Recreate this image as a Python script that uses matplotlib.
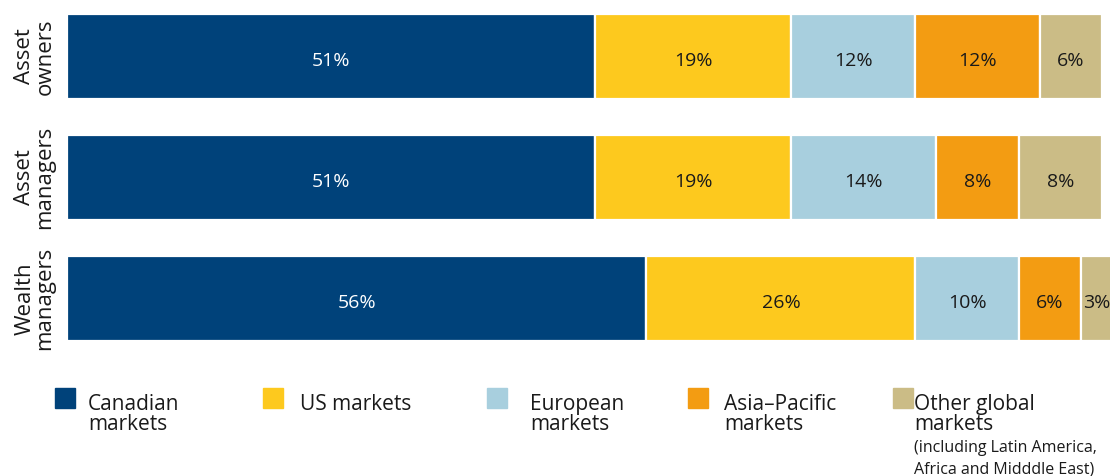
import matplotlib.pyplot as plt
import matplotlib.patches as mpatches

plt.rcParams['font.family'] = ['Open Sans', 'DejaVu Sans']

groups = ['Asset\nowners', 'Asset\nmanagers', 'Wealth\nmanagers']
markets = ['Canadian\nmarkets', 'US markets', 'European\nmarkets',
           'Asia–Pacific\nmarkets', 'Other global\nmarkets']
canadian = [51, 51, 56]
us = [19, 19, 26]
european = [12, 14, 10]
asia_pacific = [12, 8, 6]
other_global = [6, 8, 3]
other_note = '(including Latin America,\nAfrica and Midddle East)'

series = [canadian, us, european, asia_pacific, other_global]
colors = ['#00427A', '#FDC91E', '#A8CFDE', '#F39C12', '#CBBC86']
text_colors = ['white', '#1a1a1a', '#1a1a1a', '#1a1a1a', '#1a1a1a']

fig = plt.figure(figsize=(11.10, 4.76), dpi=100)
ax = fig.add_axes([67 / 1110, 135 / 476, 1045 / 1110, 327 / 476])

rows = range(len(groups))
left = [0] * len(groups)
for vals, col, tcol in zip(series, colors, text_colors):
    ax.barh(rows, vals, left=left, height=0.70, color=col,
            edgecolor='white', linewidth=1.6)
    for r, v, l in zip(rows, vals, left):
        ax.text(l + v / 2, r + 0.035, f'{v}%', ha='center', va='center',
                fontsize=14, color=tcol)
    left = [l + v for l, v in zip(left, vals)]

ax.set_xlim(0, 101)
ax.set_ylim(2.35, -0.35)
ax.axis('off')

# row labels, rotated
for r, g in zip(rows, groups):
    ax.text(-3.1, r, g, rotation=90, ha='center', va='center',
            fontsize=16, color='#1a1a1a', linespacing=0.95)

# legend along the bottom
box_x = [55, 263, 487, 688, 893]
text_x = [88, 300, 530, 724, 914]
for bx, tx, lab, col in zip(box_x, text_x, markets, colors):
    fig.patches.append(mpatches.Rectangle(
        (bx / 1110, 1 - 408 / 476), 20 / 1110, 20 / 476,
        transform=fig.transFigure, color=col, figure=fig))
    fig.text(tx / 1110, 1 - 394 / 476, lab, ha='left', va='top',
             fontsize=15, color='#1a1a1a', linespacing=0.95)
fig.text(text_x[-1] / 1110, 1 - 440 / 476, other_note, ha='left', va='top',
         fontsize=11.5, color='#1a1a1a', linespacing=1.45)

fig.savefig('out.png', dpi=100)
